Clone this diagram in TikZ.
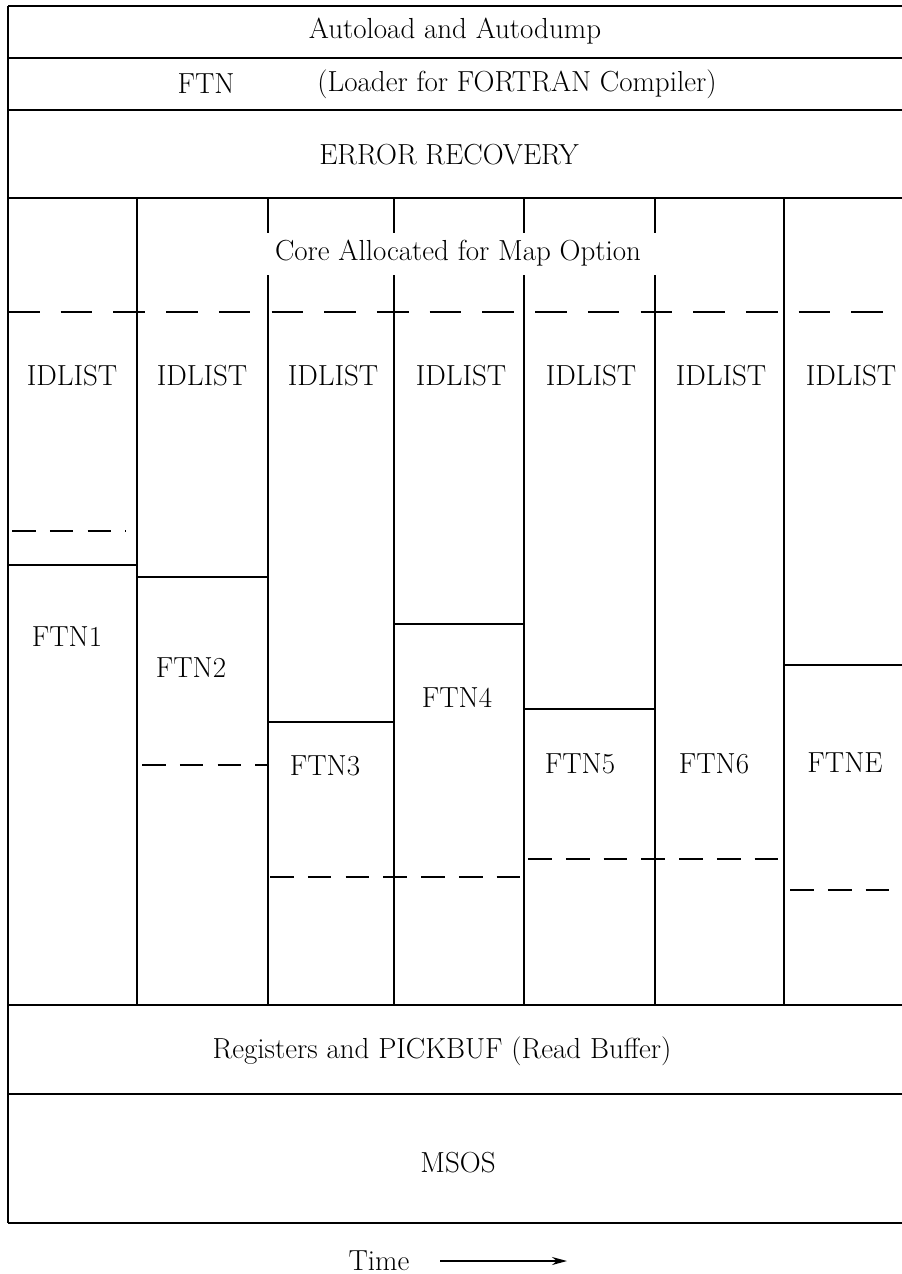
\documentclass[tikz,border=0pt]{standalone}
\usepackage{tikz}
\usetikzlibrary{arrows.meta}
\tikzset{
  mem/label/.style={
    font=\fontsize{16.5}{19}\selectfont,
    text=black,
    inner sep=2pt
  },
  mem/rule/.style={line width=0.9pt, draw=black},
  mem/dashrule/.style={line width=1.1pt, draw=black, dash pattern=on 13.5pt off 8pt},
  mem/longdash/.style={line width=1.1pt, draw=black, dash pattern=on 18pt off 12pt},
  mem/arrow/.style={-{Stealth[length=3mm,width=1.6mm]}, line width=0.9pt, draw=black}
}

\begin{document}
\begin{tikzpicture}[x=0.02cm,y=-0.02cm]
  \useasboundingbox (0,0) rectangle (902,1274);

  % frame and the fixed bands
  \draw[mem/rule] (8,6) -- (8,1223);
  \foreach \y in {6,58,110,198,1005,1094,1223}
    \draw[mem/rule] (8,\y) -- (902,\y);

  \node[mem/label] (autoload) at (455,31) {Autoload and Autodump};
  \node[mem/label] (ftn) at (206,84) {FTN};
  \node[mem/label] (loader) at (517,84) {(Loader for FORTRAN Compiler)};
  \node[mem/label] (errrec) at (449,155) {ERROR RECOVERY};
  \node[mem/label] (mapopt) at (458,253) {Core Allocated for Map Option};

  % overlay columns
  \foreach \x in {137,784}
    \draw[mem/rule] (\x,198) -- (\x,1005);
  \foreach \x in {268,394,524,655} {
    \draw[mem/rule] (\x,198) -- (\x,233);
    \draw[mem/rule] (\x,275) -- (\x,1005);
  }
  \draw[mem/longdash] (8,312) -- (902,312);

  \foreach \x [count=\i] in {72,202,333,461,591,721,851}
    \node[mem/label] (idlist\i) at (\x,376) {IDLIST};

  % top of each overlay
  \draw[mem/rule] (8,565) -- (137,565);
  \draw[mem/rule] (137,577) -- (268,577);
  \draw[mem/rule] (268,722) -- (394,722);
  \draw[mem/rule] (394,624) -- (524,624);
  \draw[mem/rule] (524,709) -- (655,709);
  \draw[mem/rule] (784,665) -- (902,665);

  % dashed limits
  \draw[mem/dashrule] (12,531) -- (126,531);
  \draw[mem/dashrule] (142,765) -- (268,765);
  \draw[mem/dashrule] (270,877) -- (522,877);
  \draw[mem/dashrule] (528,859) -- (784,859);
  \draw[mem/dashrule] (790,890) -- (902,890);

  \node[mem/label] (ftn1) at (67,637) {FTN1};
  \node[mem/label] (ftn2) at (191,668) {FTN2};
  \node[mem/label] (ftn3) at (325,766) {FTN3};
  \node[mem/label] (ftn4) at (457,698) {FTN4};
  \node[mem/label] (ftn5) at (580,764) {FTN5};
  \node[mem/label] (ftn6) at (714,764) {FTN6};
  \node[mem/label] (ftne) at (845,763) {FTNE};

  \node[mem/label] (regs) at (442,1051) {Registers and PICKBUF (Read Buffer)};
  \node[mem/label] (msos) at (458,1163) {MSOS};

  \node[mem/label] (time) at (379,1261) {Time};
  \coordinate (timeend) at (567,1261);
  \draw[mem/arrow] (time.east) ++(27,0) -- (timeend);
\end{tikzpicture}
\end{document}
